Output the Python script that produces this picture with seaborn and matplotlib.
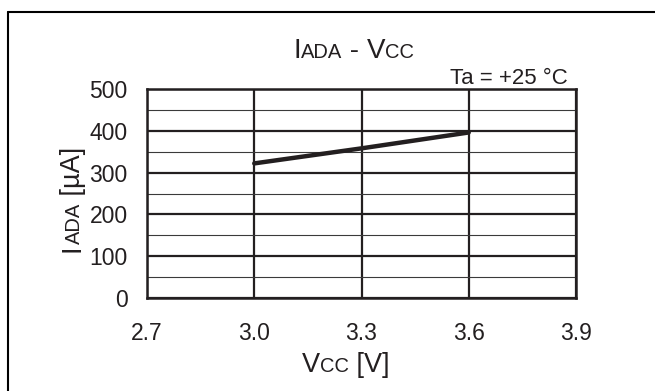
import numpy as np
import pandas as pd
import matplotlib
matplotlib.use("Agg")
import matplotlib.pyplot as plt
import seaborn as sns
from matplotlib.ticker import MultipleLocator
from matplotlib.lines import Line2D

# ======= data =======
vcc = [3.0, 3.3, 3.6]
iada = [322, 358, 396]
x_ticks = [2.7, 3.0, 3.3, 3.6, 3.9]
x_tick_labels = ["2.7", "3.0", "3.3", "3.6", "3.9"]
y_ticks = [0, 100, 200, 300, 400, 500]

INK = "#231f20"
W, H = 655, 391

sns.set_style("white")
plt.rcParams['font.family'] = ['Liberation Sans', 'DejaVu Sans']
plt.rcParams['text.color'] = INK


def px(x, y):
    # pixel coords measured from top-left -> figure fraction
    return x / W, 1 - y / H


fig = plt.figure(figsize=(W / 100, H / 100), dpi=100)
ax = fig.add_axes([147 / W, 1 - 298 / H, (576 - 147) / W, (298 - 89) / H])

df = pd.DataFrame({"vcc": vcc, "iada": iada})
sns.lineplot(data=df, x="vcc", y="iada", ax=ax, color=INK, linewidth=3.2, zorder=5)

ax.set_xlim(2.7, 3.9)
ax.set_ylim(0, 500)
ax.set_xticks(x_ticks)
ax.set_xticklabels(x_tick_labels)
ax.set_yticks(y_ticks)
ax.yaxis.set_minor_locator(MultipleLocator(50))
ax.set_xlabel("")
ax.set_ylabel("")

ax.grid(which="major", color=INK, linewidth=1.6)
ax.grid(which="minor", axis="y", color="#3a3a3a", linewidth=0.8)
ax.tick_params(which="both", length=0)
ax.tick_params(axis="x", pad=17, labelsize=16.5, labelcolor=INK)
ax.tick_params(axis="y", pad=14, labelsize=16.5, labelcolor=INK)
for s in ax.spines.values():
    s.set_color(INK)
    s.set_linewidth(1.8)


def chain(pieces, x0, y0, rotated=False):
    # draw small-caps style text as a row of pieces
    prev = None
    for s, size in pieces:
        kw = dict(fontsize=size, color=INK)
        if rotated:
            kw.update(rotation=90, rotation_mode="anchor", ha="left", va="baseline")
        else:
            kw.update(ha="left", va="baseline")
        if prev is None:
            prev = fig.text(*px(x0, y0), s, **kw)
        elif rotated:
            prev = ax.annotate(s, xy=(x0 / W, 1), xycoords=("figure fraction", prev), **kw)
        else:
            prev = ax.annotate(s, xy=(1, 1 - y0 / H), xycoords=(prev, "figure fraction"), **kw)
    return prev


big, small = 20, 14.5
chain([("I", big), ("ADA", small), (" - ", big), ("V", big), ("CC", small)], 293, 58)
fig.text(*px(568, 84), "Ta = +25 °C", ha="right", va="baseline", fontsize=16, color=INK)
chain([("V", 19.5), ("CC", 14.5), (" [V]", 19.5)], 302, 372)
chain([("I", 19.5), ("ADA", 14.5), (" [µA]", 19.5)], 80, 252, rotated=True)

# outer frame (cut off at right and bottom)
fig.add_artist(Line2D([8 / W, 8 / W], [0, 1 - 12 / H], color="black", linewidth=1.5,
                      transform=fig.transFigure))
fig.add_artist(Line2D([8 / W, 1], [1 - 12 / H, 1 - 12 / H], color="black", linewidth=1.5,
                      transform=fig.transFigure))

fig.savefig("out.png", dpi=100)
